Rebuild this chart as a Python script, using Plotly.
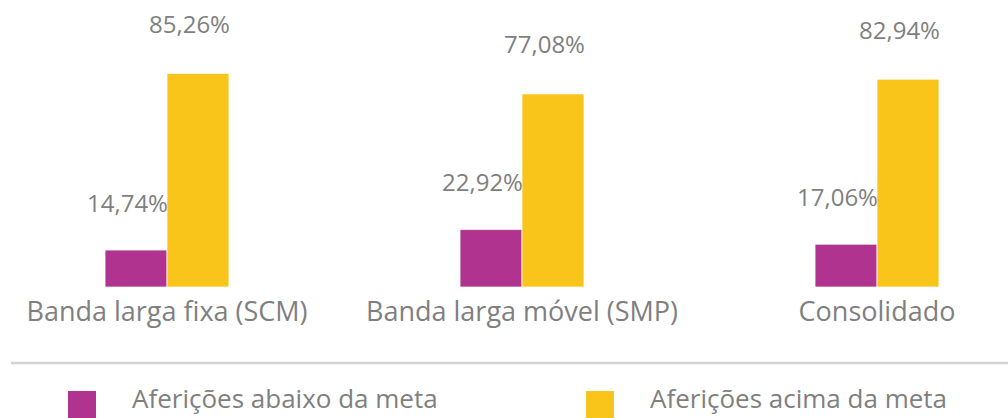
import plotly.graph_objects as go

categories = ["Banda larga fixa (SCM)", "Banda larga móvel (SMP)", "Consolidado"]
below_target = [14.74, 22.92, 17.06]
above_target = [85.26, 77.08, 82.94]
series_names = ["Aferições abaixo da meta", "Aferições acima da meta"]
below_labels = ["14,74%", "22,92%", "17,06%"]
above_labels = ["85,26%", "77,08%", "82,94%"]

MAGENTA = "#B0348F"
YELLOW = "#F9C51B"
GRAY = "#7F7F7F"
FONT = "Open Sans"

W, H = 1008, 418
MB = 131
plot_h = H - MB

xs = list(range(len(categories)))

fig = go.Figure()
fig.add_trace(go.Bar(x=xs, y=below_target, name=series_names[0],
                     marker=dict(color=MAGENTA, line=dict(color="rgba(255,255,255,0.7)", width=1)),
                     showlegend=False, hoverinfo="skip"))
fig.add_trace(go.Bar(x=xs, y=above_target, name=series_names[1],
                     marker=dict(color=YELLOW, line=dict(color="rgba(255,255,255,0.7)", width=1)),
                     showlegend=False, hoverinfo="skip"))

bargap = 0.651
half = (1 - bargap) / 2

annotations = []
for i, (v, t) in enumerate(zip(below_target, below_labels)):
    annotations.append(dict(x=i, y=v, xref="x", yref="y", text=t, showarrow=False,
                            xanchor="right", yanchor="middle", xshift=3, yshift=48,
                            font=dict(family=FONT, size=24, color=GRAY)))
for i, (v, t) in enumerate(zip(above_target, above_labels)):
    annotations.append(dict(x=i + half, y=v, xref="x", yref="y", text=t, showarrow=False,
                            xanchor="right", yanchor="middle", xshift=3, yshift=50,
                            font=dict(family=FONT, size=24, color=GRAY)))

def py(px):
    return (plot_h - px) / plot_h

shapes = [
    dict(type="line", xref="paper", yref="paper", x0=11 / W, x1=1, y0=py(363), y1=py(363),
         line=dict(color="#D3D3D3", width=2.5)),
]
legend_items = [(series_names[0], MAGENTA, 68, 130), (series_names[1], YELLOW, 586, 648)]
for name, col, sx, tx in legend_items:
    shapes.append(dict(type="rect", xref="paper", yref="paper", x0=sx / W, x1=(sx + 28) / W,
                       y0=py(391), y1=py(420), fillcolor=col, line=dict(width=0)))
    annotations.append(dict(x=tx / W, y=py(398), xref="paper", yref="paper", text=name,
                            showarrow=False, xanchor="left", yanchor="middle",
                            font=dict(family=FONT, size=26, color=GRAY)))

ppu = 355.0
x0 = -167 / ppu
x1 = x0 + W / ppu

fig.update_layout(
    width=W, height=H,
    margin=dict(l=0, r=0, t=0, b=MB),
    barmode="group", bargap=bargap, bargroupgap=0,
    plot_bgcolor="white", paper_bgcolor="white",
    xaxis=dict(range=[x0, x1], tickmode="array", tickvals=xs, ticktext=categories,
               showgrid=False, zeroline=False, showline=False, ticks="",
               ticklabelstandoff=6,
               tickfont=dict(family=FONT, size=27, color=GRAY)),
    yaxis=dict(range=[0, plot_h / 2.505], visible=False, showgrid=False, zeroline=False),
    annotations=annotations, shapes=shapes,
    font=dict(family=FONT, color=GRAY),
)

fig.write_html("out.html", config={"displayModeBar": False},
               post_script="document.body.style.margin='0';document.body.style.padding='0';document.body.style.overflow='hidden';")
